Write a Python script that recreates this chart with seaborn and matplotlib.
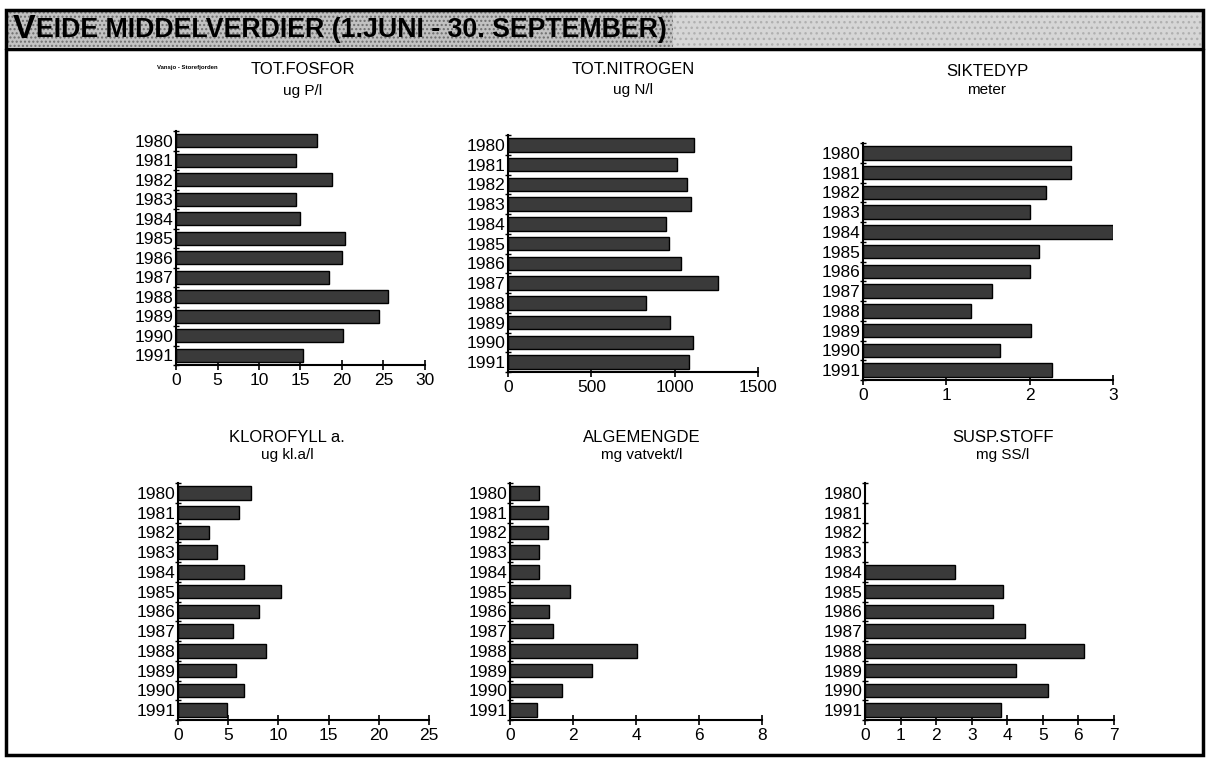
import numpy as np
import pandas as pd
import matplotlib
matplotlib.use("Agg")
import matplotlib.pyplot as plt
from matplotlib.patches import Rectangle
import seaborn as sns

# ---- data ----
years = [str(y) for y in range(1980, 1992)]

fosfor = [17.0, 14.5, 18.8, 14.5, 14.9, 20.4, 20.0, 18.4, 25.6, 24.5, 20.1, 15.3]
nitrogen = [1118, 1016, 1076, 1097, 948, 968, 1037, 1259, 826, 972, 1112, 1087]
siktedyp = [2.49, 2.49, 2.2, 2.0, 3.0, 2.11, 2.0, 1.55, 1.3, 2.01, 1.64, 2.27]
klorofyll = [7.25, 6.05, 3.05, 3.85, 6.55, 10.3, 8.05, 5.5, 8.8, 5.8, 6.6, 4.9]
algemengde = [0.92, 1.22, 1.22, 0.92, 0.92, 1.89, 1.25, 1.35, 4.02, 2.6, 1.65, 0.86]
susp_stoff = [np.nan, np.nan, np.nan, np.nan, 2.52, 3.89, 3.6, 4.49, 6.15, 4.24, 5.15, 3.83]

titles = ["TOT.FOSFOR", "TOT.NITROGEN", "SIKTEDYP", "KLOROFYLL a.", "ALGEMENGDE", "SUSP.STOFF"]
units = ["ug P/l", "ug N/l", "meter", "ug kl.a/l", "mg vatvekt/l", "mg SS/l"]
x_max = [30, 1500, 3, 25, 8, 7]
x_step = [5, 500, 1, 5, 2, 1]

series = [fosfor, nitrogen, siktedyp, klorofyll, algemengde, susp_stoff]

sns.set_theme(style="white")
plt.rcParams["font.family"] = ["Liberation Sans", "DejaVu Sans"]
plt.rcParams["text.color"] = "black"

W, H = 1207, 758
fig = plt.figure(figsize=(W / 100, H / 100), dpi=100)
fig.patch.set_facecolor("white")

def fx(x):
    return x / W

def fy(y):
    return 1 - y / H

# panel placement in pixels: x of zero, x of max, top of first slot, bottom of last slot
boxes = [
    (176, 425, 131, 365),
    (508, 758, 135, 372),
    (863, 1113, 143, 380),
    (178, 429, 483, 720),
    (510, 762, 483, 720),
    (865, 1114, 483, 720),
]
# title centre x, title y, unit y
title_pos = [
    (303, 70, 91), (633, 70, 90), (987, 72, 90),
    (287, 437, 455), (642, 437, 455), (1003, 437, 455),
]

BAR = "#3a3a3a"

for i, vals in enumerate(series):
    x0, x1, yt, yb = boxes[i]
    ax = fig.add_axes([fx(x0), fy(yb), fx(x1 - x0), (yb - yt) / H])
    df = pd.DataFrame({"year": years, "value": vals})
    sns.barplot(data=df, x="value", y="year", order=years, orient="h",
                color=BAR, saturation=1, edgecolor="black", linewidth=1,
                width=0.68, errorbar=None, ax=ax)
    ax.set_facecolor("none")
    ax.set_xlim(0, x_max[i])
    ax.set_ylim(11.5, -0.5)
    ax.set_xticks(np.arange(0, x_max[i] + x_step[i] / 2, x_step[i]))
    ax.set_yticks(range(len(years)))
    ax.set_yticklabels(years)
    ax.set_yticks(np.arange(-0.5, 12, 1), minor=True)
    ax.tick_params(axis="y", which="major", length=0, pad=2, labelsize=12.5, colors="black")
    ax.tick_params(axis="y", which="minor", left=True, direction="inout", length=5, width=1, color="black")
    ax.tick_params(axis="x", which="major", bottom=True, direction="inout", length=7, width=1.2,
                   pad=2, labelsize=12.5, colors="black")
    for s in ["top", "right"]:
        ax.spines[s].set_visible(False)
    for s in ["left", "bottom"]:
        ax.spines[s].set_linewidth(1.5)
        ax.spines[s].set_color("black")
    ax.set_xlabel("")
    ax.set_ylabel("")

    cx, ty, uy = title_pos[i]
    fig.text(fx(cx), fy(ty), titles[i], ha="center", va="center", fontsize=12, color="black")
    fig.text(fx(cx), fy(uy), units[i], ha="center", va="center", fontsize=11, color="black")

fig.text(fx(157), fy(68), "Vansjo - Storefjorden", ha="left", va="center",
         fontsize=4.3, fontweight="bold", color="black")

# header band
fig.patches.append(Rectangle((fx(6), fy(47)), fx(673 - 6), (47 - 11) / H, transform=fig.transFigure,
                             facecolor="#c2c2c2", edgecolor="#6e6e6e", hatch="....", lw=0, zorder=0))
fig.patches.append(Rectangle((fx(673), fy(47)), fx(1203 - 673), (47 - 11) / H, transform=fig.transFigure,
                             facecolor="#d6d6d6", edgecolor="#b0b0b0", hatch="...", lw=0, zorder=0))
fig.add_artist(plt.Line2D([fx(6), fx(1203)], [fy(48.5), fy(48.5)], transform=fig.transFigure,
                          color="black", lw=2.5))
# outer frame
fig.patches.append(Rectangle((fx(6), fy(755)), fx(1203 - 6), (755 - 10) / H, transform=fig.transFigure,
                             fill=False, edgecolor="black", lw=2.5, zorder=5))

# title with a larger leading V, like small caps
renderer = fig.canvas.get_renderer()
tv = fig.text(fx(13), fy(29), "V", ha="left", va="center", fontsize=24.5, fontweight="bold")
vw = tv.get_window_extent(renderer).width
fig.text(fx(13 + vw + 0.5), fy(30), "EIDE MIDDELVERDIER (1.JUNI - 30. SEPTEMBER)", ha="left",
         va="center", fontsize=19.3, fontweight="bold")

fig.savefig("out.png", dpi=100, facecolor="white")
